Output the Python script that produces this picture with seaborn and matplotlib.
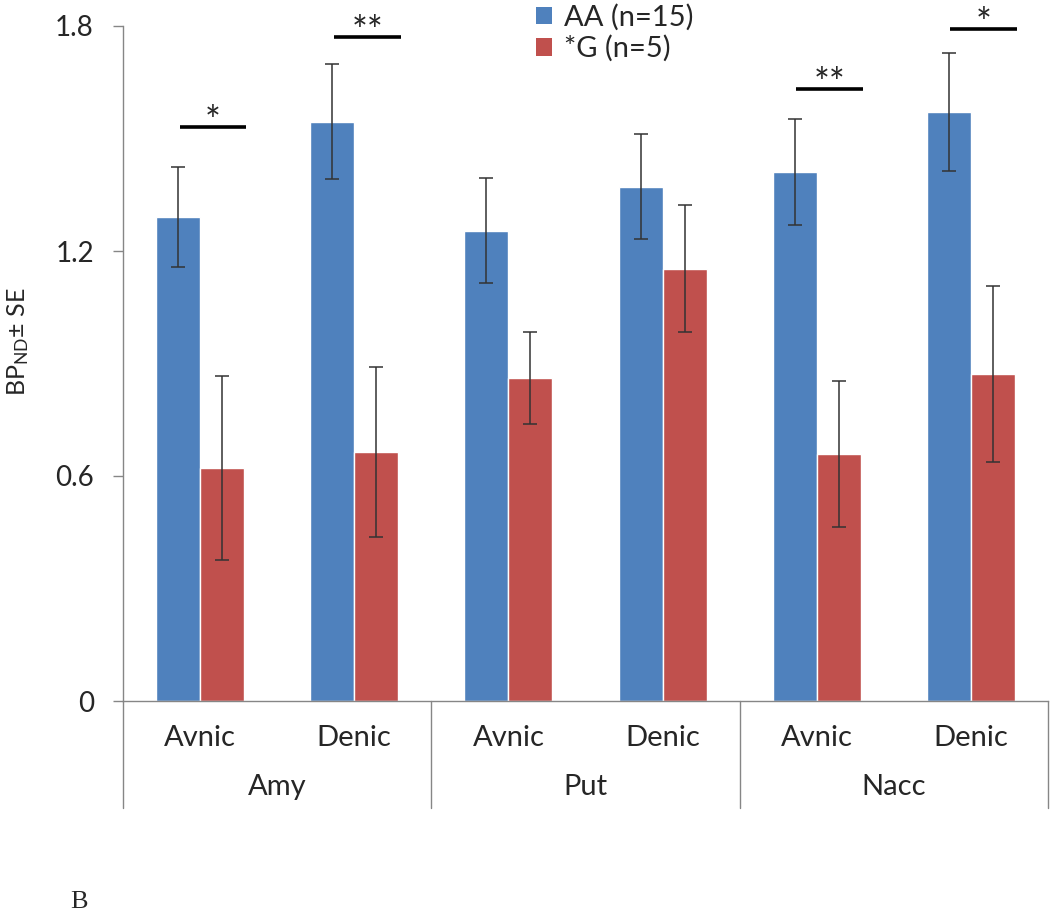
import numpy as np
import pandas as pd
import matplotlib.pyplot as plt
import matplotlib.transforms as mtransforms
from matplotlib.patches import Patch
import seaborn as sns

# data
regions = ["Amy", "Put", "Nacc"]
drugs = ["Avnic", "Denic"]
genotypes = ["AA (n=15)", "*G (n=5)"]

aa_mean = [1.291, 1.545, 1.254, 1.371, 1.411, 1.571]
aa_se = [0.133, 0.154, 0.140, 0.140, 0.141, 0.158]
g_mean = [0.621, 0.665, 0.862, 1.153, 0.659, 0.872]
g_se = [0.245, 0.227, 0.122, 0.170, 0.195, 0.235]

# significance marks (AA vs *G) per region/drug
sig_text = ["*", "**", "", "", "**", "*"]
sig_y = [1.531, 1.771, np.nan, np.nan, 1.632, 1.792]

blue = "#4F81BD"
red = "#C0504D"

slots = [r + "-" + d for r in regions for d in drugs]
df = pd.DataFrame({
    "slot": slots * 2,
    "genotype": [genotypes[0]] * 6 + [genotypes[1]] * 6,
    "value": aa_mean + g_mean,
})

sns.set_style("white")
plt.rcParams["font.family"] = ["Lato", "DejaVu Sans"]
plt.rcParams["mathtext.default"] = "regular"

fig = plt.figure(figsize=(10.5, 9.11), dpi=100)
ax = fig.add_axes([123 / 1050, 1 - 701 / 911, 925 / 1050, 675 / 911])

sns.barplot(data=df, x="slot", y="value", hue="genotype", order=slots,
            hue_order=genotypes, palette=[blue, red], width=0.571,
            saturation=1, errorbar=None, legend=False, ax=ax)

# error bars (mean +/- SE)
for cont, se in zip(ax.containers, [aa_se, g_se]):
    xs = [p.get_x() + p.get_width() / 2 for p in cont]
    hs = [p.get_height() for p in cont]
    ax.errorbar(xs, hs, yerr=se, fmt="none", ecolor="#333333",
                elinewidth=1.1, capsize=5, capthick=1.1, zorder=5)

# significance bars
blue_bars = ax.containers[0]
red_bars = ax.containers[1]
for i, s in enumerate(sig_text):
    if not s:
        continue
    b = blue_bars[i]
    r = red_bars[i]
    x0 = b.get_x() + b.get_width() / 2 + 0.01
    x1 = r.get_x() + r.get_width() + 0.015
    ax.plot([x0, x1], [sig_y[i], sig_y[i]], color="black", lw=2.6,
            solid_capstyle="butt", clip_on=False)
    ax.annotate(s, xy=((x0 + x1) / 2, sig_y[i]), xytext=(0, -5),
                textcoords="offset points", ha="center", va="baseline",
                fontsize=27, annotation_clip=False)

ax.set_xlim(-0.5, 5.5)
ax.set_ylim(0, 1.8)
ax.set_yticks([0, 0.6, 1.2, 1.8])
ax.set_yticklabels(["0", "0.6", "1.2", "1.8"])
ax.set_xticks(range(len(slots)))
ax.set_xticklabels(drugs * len(regions))
ax.set_xlabel("")
ax.set_ylabel("BP$_{ND}$± SE", fontsize=18)
ax.yaxis.set_label_coords(-92 / 925, 0.532)

ax.tick_params(axis="y", direction="out", length=7, width=1,
               color="#868686", labelsize=20, pad=14, left=True)
ax.tick_params(axis="x", length=0, labelsize=21, pad=17)

for side in ["top", "right"]:
    ax.spines[side].set_visible(False)
for side in ["left", "bottom"]:
    ax.spines[side].set_color("#868686")
    ax.spines[side].set_linewidth(1)

# region labels and separators under the axis
trans = mtransforms.blended_transform_factory(ax.transData, ax.transAxes)
for k, r in enumerate(regions):
    ax.text(2 * k + 0.5, -0.128, r, transform=trans, ha="center",
            va="center", fontsize=21)
for xsep in [-0.5, 1.5, 3.5, 5.5]:
    ax.plot([xsep, xsep], [0, -0.1585], transform=trans, color="#868686",
            lw=1, clip_on=False)

# legend
handles = [Patch(facecolor=blue, edgecolor="none"),
           Patch(facecolor=red, edgecolor="none")]
fig.legend(handles, genotypes, loc="upper left",
           bbox_to_anchor=(536 / 1050, 1 - 4 / 911), frameon=False,
           fontsize=21, handlelength=0.55, handleheight=0.55,
           handletextpad=0.4, labelspacing=0.15, borderpad=0,
           borderaxespad=0)

fig.text(70 / 1050, 1 - 908 / 911, "B", family="Liberation Serif",
         fontsize=19, va="baseline", ha="left")

fig.savefig("out.png", dpi=100)
